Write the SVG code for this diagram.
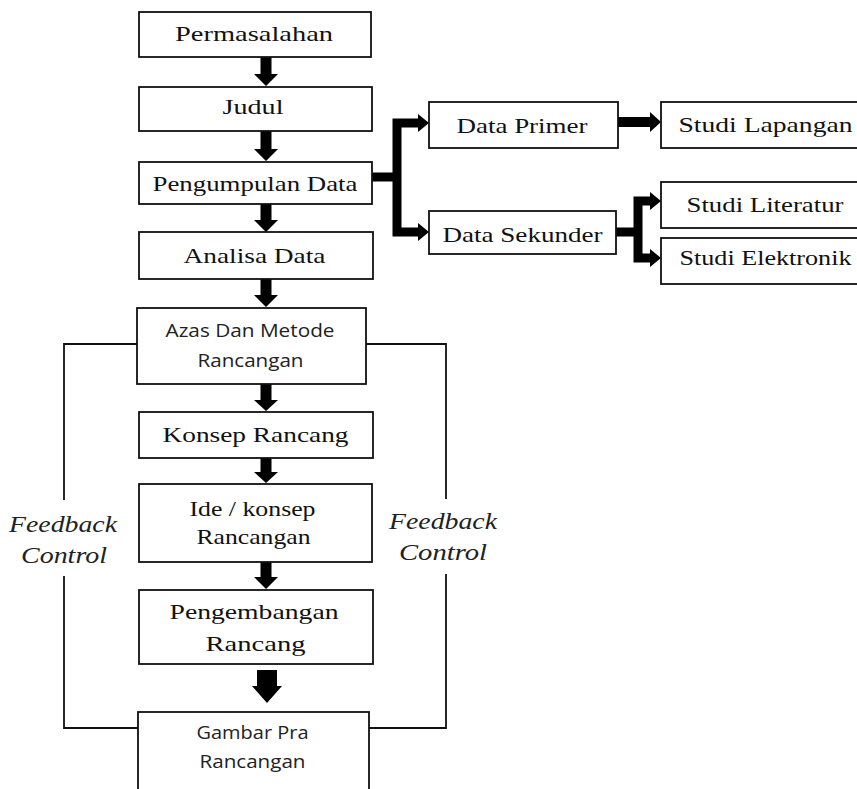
<svg xmlns="http://www.w3.org/2000/svg" width="857" height="789" viewBox="0 0 857 789">
<style>
.box{fill:#fff;stroke:#111;stroke-width:1.8}
.t{font-family:"Liberation Serif","Times New Roman",serif;font-size:22px;fill:#111;text-anchor:middle}
.s{font-family:"Open Sans","Liberation Sans",sans-serif;font-size:19px;fill:#222;text-anchor:middle}
.fb{font-family:"Liberation Serif","Times New Roman",serif;font-style:italic;font-size:24px;fill:#222;text-anchor:middle}
.ar{fill:#000}
.br{fill:none;stroke:#000;stroke-width:9;stroke-linejoin:miter}
.fl{fill:none;stroke:#111;stroke-width:1.8}
</style>
<rect width="857" height="789" fill="#fff"/>
<g id="connectors">
<path class="ar" d="M260.5,57H271.5V74H278L266,86L254,74H260.5Z"/>
<path class="ar" d="M260.5,131H271.5V149H278L266,161L254,149H260.5Z"/>
<path class="ar" d="M260.5,204H271.5V220H278L266,232L254,220H260.5Z"/>
<path class="ar" d="M260.5,279H271.5V295H278L266,307L254,295H260.5Z"/>
<path class="ar" d="M260.5,384H271.5V400H278L266,411L254,400H260.5Z"/>
<path class="ar" d="M260.5,458H271.5V472H278L266,483L254,472H260.5Z"/>
<path class="ar" d="M260.5,562H271.5V577H278L266,589L254,577H260.5Z"/>
<path class="ar" d="M257,670H277V686H282L267,703L252,686H257Z"/>
<path class="br" d="M372,177H397M419,123H397V232H419"/>
<path class="ar" d="M418,114L429,123L418,132Z"/>
<path class="ar" d="M418,223L429,232L418,241Z"/>
<path class="ar" d="M618,117H650V112L661,122L650,132V127H618Z"/>
<path class="br" d="M616,232H638M651,201H638V258H651"/>
<path class="ar" d="M650,192L661,201L650,210Z"/>
<path class="ar" d="M650,249L661,258L650,267Z"/>
<path class="fl" d="M137,344H64V500M64,576V728H138"/>
<path class="fl" d="M366,344H446V499M446,574V728H369"/>
</g>
<g id="permasalahan"><rect class="box" x="139" y="12" width="232" height="45"/><text class="t" x="254" y="41" textLength="158" lengthAdjust="spacingAndGlyphs">Permasalahan</text></g>
<g id="judul"><rect class="box" x="139" y="87" width="233" height="44"/><text class="t" x="253" y="114" textLength="61" lengthAdjust="spacingAndGlyphs">Judul</text></g>
<g id="pengumpulan"><rect class="box" x="139" y="162" width="233" height="42"/><text class="t" x="255" y="191" textLength="205" lengthAdjust="spacingAndGlyphs">Pengumpulan Data</text></g>
<g id="analisa"><rect class="box" x="139" y="232" width="234" height="47"/><text class="t" x="254.5" y="263" textLength="142" lengthAdjust="spacingAndGlyphs">Analisa Data</text></g>
<g id="azas"><rect class="box" x="137" y="308" width="229" height="76"/><text class="s" x="250" y="337" textLength="169" lengthAdjust="spacingAndGlyphs">Azas Dan Metode</text><text class="s" x="250.5" y="367" textLength="106" lengthAdjust="spacingAndGlyphs">Rancangan</text></g>
<g id="konsep"><rect class="box" x="139" y="412" width="234" height="46"/><text class="t" x="255.5" y="442" textLength="186" lengthAdjust="spacingAndGlyphs">Konsep Rancang</text></g>
<g id="ide"><rect class="box" x="139" y="484" width="233" height="78"/><text class="t" x="252.5" y="516" textLength="126" lengthAdjust="spacingAndGlyphs">Ide / konsep</text><text class="t" x="253.5" y="544" textLength="114" lengthAdjust="spacingAndGlyphs">Rancangan</text></g>
<g id="pengembangan"><rect class="box" x="139" y="590" width="234" height="74"/><text class="t" x="254" y="619" textLength="169" lengthAdjust="spacingAndGlyphs">Pengembangan</text><text class="t" x="255.5" y="651" textLength="100" lengthAdjust="spacingAndGlyphs">Rancang</text></g>
<g id="gambar"><rect class="box" x="138" y="712" width="231" height="82"/><text class="s" x="252.5" y="739" textLength="112" lengthAdjust="spacingAndGlyphs">Gambar Pra</text><text class="s" x="252.5" y="768" textLength="106" lengthAdjust="spacingAndGlyphs">Rancangan</text></g>
<g id="data-primer"><rect class="box" x="429" y="102" width="189" height="46"/><text class="t" x="522" y="133" textLength="131" lengthAdjust="spacingAndGlyphs">Data Primer</text></g>
<g id="data-sekunder"><rect class="box" x="429" y="211" width="187" height="43"/><text class="t" x="522.5" y="242" textLength="160" lengthAdjust="spacingAndGlyphs">Data Sekunder</text></g>
<g id="studi-lapangan"><rect class="box" x="661" y="102" width="200" height="46"/><text class="t" x="765.5" y="132" textLength="174" lengthAdjust="spacingAndGlyphs">Studi Lapangan</text></g>
<g id="studi-literatur"><rect class="box" x="661" y="182" width="200" height="46"/><text class="t" x="765" y="212" textLength="157" lengthAdjust="spacingAndGlyphs">Studi Literatur</text></g>
<g id="studi-elektronik"><rect class="box" x="661" y="238" width="200" height="46"/><text class="t" x="765.5" y="265" textLength="172" lengthAdjust="spacingAndGlyphs">Studi Elektronik</text></g>
<g id="feedback-left"><text class="fb" x="63" y="532" textLength="108" lengthAdjust="spacingAndGlyphs">Feedback</text><text class="fb" x="64" y="563" textLength="86" lengthAdjust="spacingAndGlyphs">Control</text></g>
<g id="feedback-right"><text class="fb" x="443" y="529" textLength="108" lengthAdjust="spacingAndGlyphs">Feedback</text><text class="fb" x="443" y="560" textLength="88" lengthAdjust="spacingAndGlyphs">Control</text></g>
</svg>
